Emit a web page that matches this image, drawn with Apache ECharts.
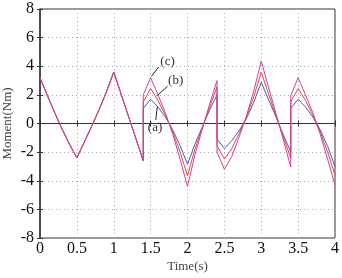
<!DOCTYPE html>
<html>
<head>
<meta charset="utf-8">
<script src="https://cdn.jsdelivr.net/npm/echarts@6/dist/echarts.min.js"></script>
<style>
  html, body { margin: 0; padding: 0; background: #fff; }
  #chart { width: 342px; height: 278px; }
</style>
</head>
<body>
<div id="chart"></div>
<script>
// time samples (s), the repeated ones are the jumps
const timeS = [0, 0.1, 0.2, 0.3, 0.4, 0.5, 0.6, 0.7, 0.8, 0.9, 1.0, 1.1, 1.2, 1.3, 1.4,
  1.4, 1.5, 1.6, 1.7, 1.8, 1.9, 2.0, 2.1, 2.2, 2.3, 2.4,
  2.4, 2.5, 2.6, 2.7, 2.8, 2.9, 3.0, 3.1, 3.2, 3.3, 3.4,
  3.4, 3.5, 3.6, 3.7, 3.8, 3.9, 4.0]

// shared part up to t = 1.4
const commonPart = [3.2, 1.95, 0.75, -0.4, -1.45, -2.4, -1.3, -0.2, 0.95, 2.2, 3.6, 2.05, 0.5, -1.05, -2.6]

const curveA = commonPart.concat([1.05, 1.7, 1.15, 0.45, -0.45, -1.55, -2.85, -1.45, -0.25, 0.95, 2.0,
  -1.1, -1.74, -1.2, -0.5, 0.35, 1.5, 2.88, 1.65, 0.45, -0.8, -1.97,
  1.05, 1.7, 1.15, 0.45, -0.45, -1.6, -3.0])
const curveB = commonPart.concat([1.5, 2.45, 1.6, 0.6, -0.6, -2.0, -3.65, -1.8, -0.3, 1.15, 2.55,
  -1.55, -2.48, -1.75, -0.7, 0.45, 1.9, 3.58, 2.05, 0.55, -0.95, -2.4,
  1.5, 2.45, 1.6, 0.6, -0.6, -2.0, -3.6])
const curveC = commonPart.concat([2.0, 3.2, 2.0, 0.75, -0.75, -2.5, -4.4, -2.2, -0.4, 1.35, 3.0,
  -2.0, -3.2, -2.3, -0.95, 0.55, 2.3, 4.37, 2.5, 0.7, -1.15, -3.05,
  1.95, 3.2, 2.0, 0.75, -0.75, -2.5, -4.3])

// labels and arrows (data coords): text pos, arrow start, arrow tip
const annoNames = ['(a)', '(b)', '(c)']
const annoText = [[1.56, -0.3], [1.84, 3.0], [1.73, 4.3]]
const annoFrom = [[1.57, 0.25], [1.73, 2.6], [1.61, 3.95]]
const annoTo = [[1.59, 1.15], [1.59, 1.95], [1.51, 3.3]]

const serif = 'Liberation Serif'

const pairs = (ys) => timeS.map((t, i) => [t, ys[i]])

const chart = echarts.init(document.getElementById('chart'))

const option = {
  animation: false,
  grid: {
    left: 40,
    right: 7,
    top: 9,
    bottom: 40,
    containLabel: false,
    outerBoundsMode: 'none',
    show: true,
    borderColor: '#333',
    borderWidth: 1,
  },
  xAxis: [
    {
      type: 'value',
      min: 0,
      max: 4,
      interval: 0.5,
      name: 'Time(s)',
      nameLocation: 'middle',
      nameGap: 22,
      nameMoveOverlap: false,
      nameTextStyle: { fontFamily: serif, fontSize: 13, color: '#444' },
      axisLine: { lineStyle: { color: '#333', width: 1 } },
      axisTick: { inside: true, length: 3, lineStyle: { color: '#333' } },
      axisLabel: { fontFamily: serif, fontSize: 16, color: '#111', margin: 3 },
      splitLine: { lineStyle: { color: '#aaa', type: [1, 3] } },
    },
    {
      type: 'value',
      position: 'top',
      min: 0,
      max: 4,
      interval: 0.5,
      axisLine: { show: false },
      axisTick: { inside: true, length: 3, lineStyle: { color: '#333' } },
      axisLabel: { show: false },
      splitLine: { show: false },
    },
  ],
  yAxis: [
    {
      type: 'value',
      min: -8,
      max: 8,
      interval: 2,
      name: 'Moment(Nm)',
      nameLocation: 'middle',
      nameGap: 26,
      nameMoveOverlap: false,
      nameTextStyle: { fontFamily: serif, fontSize: 13, color: '#444' },
      axisLine: { show: true, lineStyle: { color: '#333', width: 1.5 } },
      axisTick: { show: true, inside: true, length: 3, lineStyle: { color: '#333' } },
      axisLabel: { fontFamily: serif, fontSize: 16, color: '#111', margin: 6 },
      splitLine: { lineStyle: { color: '#aaa', type: [1, 3] } },
    },
    {
      type: 'value',
      position: 'right',
      min: -8,
      max: 8,
      interval: 2,
      axisLine: { show: false },
      axisTick: { show: true, inside: true, length: 3, lineStyle: { color: '#333' } },
      axisLabel: { show: false },
      splitLine: { show: false },
    },
  ],
  series: [
    {
      name: '(a)',
      type: 'line',
      showSymbol: false,
      data: pairs(curveA),
      lineStyle: { color: '#4a5aa8', width: 1 },
    },
    {
      name: '(b)',
      type: 'line',
      showSymbol: false,
      data: pairs(curveB),
      lineStyle: { color: '#e8424e', width: 1 },
    },
    {
      name: '(c)',
      type: 'line',
      showSymbol: false,
      data: pairs(curveC),
      lineStyle: { color: '#c8449a', width: 1 },
      markLine: {
        silent: true,
        symbol: ['none', 'arrow'],
        symbolSize: [0, 8],
        label: { show: false },
        lineStyle: { color: '#222', width: 1, type: 'solid' },
        data: annoNames.map((n, i) => [{ coord: annoFrom[i] }, { coord: annoTo[i] }]),
      },
      markPoint: {
        silent: true,
        symbol: 'circle',
        symbolSize: 0,
        label: {
          show: true,
          position: 'inside',
          fontFamily: serif,
          fontSize: 13,
          color: '#333',
          formatter: (p) => p.name,
        },
        data: annoNames.map((n, i) => ({ name: n, coord: annoText[i] })),
      },
    },
  ],
}

option && chart.setOption(option)
</script>
</body>
</html>
